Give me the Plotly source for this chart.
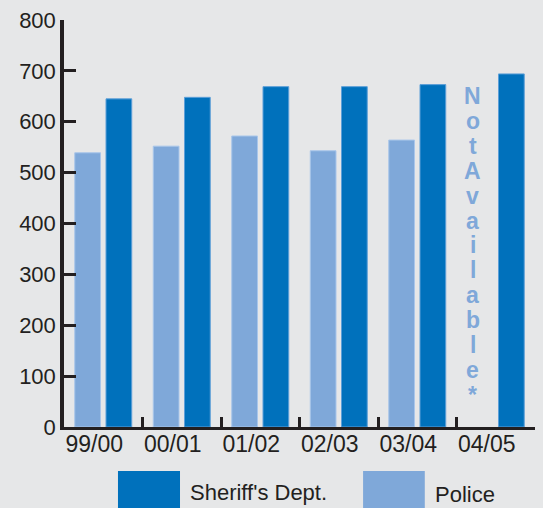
import plotly.graph_objects as go

years = ["99/00", "00/01", "01/02", "02/03", "03/04", "04/05"]
sheriff = [645, 648, 669, 669, 673, 694]
police = [539, 552, 572, 543, 564, None]
y_ticks = [0, 100, 200, 300, 400, 500, 600, 700, 800]
na_text = "Not Available*"

SHERIFF = "#0071bc"
POLICE = "#7fa8d9"
BG = "#e6e7e8"
INK = "#231f20"
FONT = "Liberation Sans, Arial, sans-serif"

fig = go.Figure()
fig.add_trace(go.Bar(x=years, y=police, name="Police",
                     marker=dict(color=POLICE, line=dict(color="#a9c6ea", width=1))))
fig.add_trace(go.Bar(x=years, y=sheriff, name="Sheriff's Dept.",
                     marker=dict(color=SHERIFF, line=dict(color="#5d9fd8", width=1))))

fig.update_layout(
    width=543, height=508,
    paper_bgcolor=BG, plot_bgcolor=BG,
    margin=dict(l=64, r=8, t=20, b=81),
    barmode="group", bargap=0.204, bargroupgap=0.176,
    showlegend=False,
    font=dict(family=FONT, size=22, color=INK),
)
fig.update_xaxes(
    type="category", tickson="boundaries", ticks="inside", ticklen=10,
    tickwidth=2.5, tickcolor=INK, showline=True, linewidth=3, linecolor=INK,
    showgrid=False, tickfont=dict(size=23, color=INK),
    ticklabelshift=-9, ticklabelstandoff=-6,
)
fig.update_yaxes(
    range=[0, 800], tickvals=y_ticks, ticks="inside", ticklen=12, tickwidth=3,
    tickcolor=INK, showline=True, linewidth=3.5, linecolor=INK,
    showgrid=False, zeroline=False, tickfont=dict(size=22, color=INK),
)

# "Not Available*" stacked vertical text over the missing police bar
letters = [ch for ch in na_text if ch != " "]
for i, ch in enumerate(letters):
    fig.add_annotation(
        x=4.71, y=800, xref="x", yref="y", yanchor="middle",
        text=ch, showarrow=False, yshift=-(76 + 24.9 * i),
        font=dict(family="Liberation Sans Narrow, Liberation Sans, Arial, sans-serif",
                  size=23, color=POLICE, weight="bold"),
    )

# Custom legend with large swatches
fig.add_shape(type="rect", xref="paper", yref="paper",
              x0=0.1146, x1=0.2463, y0=-0.21, y1=-0.108,
              fillcolor=SHERIFF, line=dict(width=0))
fig.add_shape(type="rect", xref="paper", yref="paper",
              x0=0.635, x1=0.766, y0=-0.21, y1=-0.108,
              fillcolor=POLICE, line=dict(width=0))
fig.add_annotation(x=0.2633, y=-0.160, xref="paper", yref="paper",
                   xanchor="left", yanchor="middle", showarrow=False,
                   text="Sheriff's Dept.", font=dict(size=22, color=INK))
fig.add_annotation(x=0.7834, y=-0.166, xref="paper", yref="paper",
                   xanchor="left", yanchor="middle", showarrow=False,
                   text="Police", font=dict(size=22, color=INK))

fig.write_html(
    "out.html",
    config={"displayModeBar": False},
    post_script="document.body.style.margin='0';document.body.style.overflow='hidden';",
)
